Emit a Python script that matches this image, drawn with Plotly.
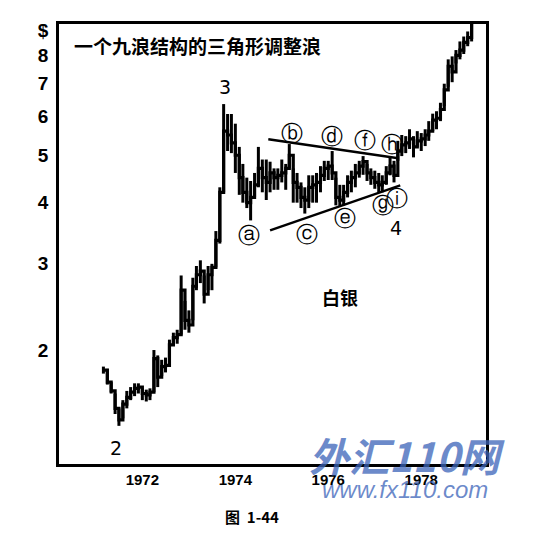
import math
import pandas as pd
import plotly.graph_objects as go

# monthly silver bars, Mar 1971 - Feb 1979
months = pd.date_range("1971-03-01", periods=96, freq="MS")

highs = [1.85, 1.83, 1.72, 1.63, 1.52, 1.58, 1.65, 1.68, 1.71, 1.71,
         1.67, 1.66, 1.67, 2.00, 1.95, 1.91, 1.93, 2.10, 2.17, 2.20,
         2.84, 2.52, 2.41, 2.81, 2.97, 3.05, 2.84, 2.97, 3.00, 3.50,
         4.30, 6.36, 6.07, 6.07, 5.80, 5.20, 4.80, 4.50, 4.43, 4.60,
         5.20, 4.90, 4.90, 4.85, 4.70, 4.70, 4.90, 4.80, 5.27, 4.70,
         4.60, 4.40, 4.30, 4.55, 4.55, 4.60, 4.75, 4.87, 4.87, 5.10,
         4.50, 4.35, 4.35, 4.55, 4.65, 4.80, 4.87, 4.98, 4.80, 4.70,
         4.65, 4.60, 4.55, 4.75, 4.98, 4.87, 5.35, 5.50, 5.47, 5.65,
         5.47, 5.60, 5.55, 5.65, 5.87, 6.08, 6.15, 6.40, 7.00, 7.85,
         7.96, 8.20, 8.54, 8.74, 8.95, 9.80]

lows = [1.79, 1.70, 1.63, 1.48, 1.40, 1.45, 1.52, 1.58, 1.61, 1.63,
        1.58, 1.57, 1.58, 1.64, 1.68, 1.77, 1.80, 1.87, 2.05, 2.06,
        2.15, 2.20, 2.17, 2.30, 2.65, 2.74, 2.49, 2.65, 2.65, 2.95,
        3.30, 4.20, 5.10, 5.05, 4.60, 4.15, 4.00, 3.90, 3.68, 4.10,
        4.30, 4.20, 4.05, 4.20, 4.25, 4.25, 4.40, 4.25, 4.70, 4.00,
        4.00, 3.90, 3.80, 3.90, 4.00, 4.00, 4.20, 4.43, 4.45, 4.45,
        3.95, 3.94, 3.95, 4.10, 4.20, 4.30, 4.50, 4.56, 4.43, 4.35,
        4.27, 4.20, 4.20, 4.35, 4.55, 4.40, 4.87, 4.98, 5.05, 5.15,
        4.95, 5.20, 5.10, 5.22, 5.35, 5.60, 5.65, 5.87, 6.30, 6.90,
        7.05, 7.70, 7.85, 8.05, 8.35, 8.54]

closes = [1.82, 1.72, 1.65, 1.52, 1.44, 1.55, 1.60, 1.64, 1.67, 1.68,
          1.63, 1.62, 1.64, 1.92, 1.76, 1.85, 1.86, 2.05, 2.12, 2.15,
          2.65, 2.30, 2.25, 2.70, 2.85, 2.90, 2.60, 2.85, 2.95, 3.35,
          4.20, 5.60, 5.50, 5.30, 5.00, 4.50, 4.20, 4.00, 4.10, 4.35,
          4.70, 4.50, 4.40, 4.60, 4.50, 4.55, 4.60, 4.70, 5.00, 4.40,
          4.30, 4.10, 4.05, 4.30, 4.35, 4.40, 4.55, 4.70, 4.75, 4.60,
          4.10, 4.05, 4.20, 4.40, 4.50, 4.60, 4.75, 4.85, 4.60, 4.50,
          4.40, 4.35, 4.40, 4.60, 4.75, 4.55, 5.10, 5.25, 5.30, 5.40,
          5.20, 5.35, 5.40, 5.50, 5.60, 5.90, 5.95, 6.20, 6.80, 7.60,
          7.40, 8.00, 8.20, 8.50, 8.70, 9.30]

# triangle boundary lines (start, end)
upper_dates = ["1974-09-17", "1977-07-05"]
upper_vals = [5.39, 4.93]
lower_dates = ["1974-10-01", "1977-07-20"]
lower_vals = [3.51, 4.34]

# wave labels: text, date, price
wave_text = ["ⓐ", "ⓑ", "ⓒ", "ⓓ", "ⓔ", "ⓕ", "ⓖ", "ⓗ", "ⓘ", "2", "3", "4"]
wave_dates = ["1974-04-20", "1975-03-20", "1975-07-15", "1976-02-01", "1976-05-15",
              "1976-10-15", "1977-03-10", "1977-05-20", "1977-06-25",
              "1971-06-10", "1973-10-10", "1977-06-20"]
wave_vals = [3.42, 5.55, 3.45, 5.45, 3.72, 5.35, 3.95, 5.25, 4.07, 1.26, 6.90, 3.55]

fig = go.Figure()

# high-low bars
seg_x, seg_y = [], []
for d, h, l in zip(months, highs, lows):
    seg_x += [d, d, None]
    seg_y += [l, h, None]
fig.add_trace(go.Scatter(x=seg_x, y=seg_y, mode="lines",
                         line=dict(color="black", width=3), hoverinfo="skip"))
# closes joined as steps
fig.add_trace(go.Scatter(x=months, y=closes, mode="lines", line_shape="hv",
                         line=dict(color="black", width=3.2)))

fig.add_trace(go.Scatter(x=upper_dates, y=upper_vals, mode="lines",
                         line=dict(color="black", width=2.4)))
fig.add_trace(go.Scatter(x=lower_dates, y=lower_vals, mode="lines",
                         line=dict(color="black", width=2.4)))

for t, d, v in zip(wave_text, wave_dates, wave_vals):
    fig.add_annotation(x=d, y=math.log10(v), text=t, showarrow=False,
                       xanchor="center", yanchor="middle",
                       font=dict(family="DejaVu Sans", size=19 if t.isdigit() else 22,
                                 color="black"))


def px(X, Y):
    # reference pixel -> paper coords of the plot frame
    return (X - 59) / 427, (464 - Y) / 442


tx, ty = px(72, 44)
fig.add_annotation(x=tx, y=ty, xref="paper", yref="paper", xanchor="left", yanchor="middle",
                   text="<b>一个九浪结构的三角形调整浪</b>", showarrow=False,
                   font=dict(family="Noto Sans CJK SC", size=19, color="black"))
tx, ty = px(340, 296)
fig.add_annotation(x=tx, y=ty, xref="paper", yref="paper", xanchor="center", yanchor="middle",
                   text="<b>白银</b>", showarrow=False,
                   font=dict(family="Noto Sans CJK SC", size=18, color="black"))
tx, ty = px(252, 517)
fig.add_annotation(x=tx, y=ty, xref="paper", yref="paper", xanchor="center", yanchor="middle",
                   text="<b>图  1-44</b>", showarrow=False,
                   font=dict(family="Noto Sans CJK SC", size=15, color="black"))
# scan watermark
tx, ty = px(407, 455)
fig.add_annotation(x=tx, y=ty, xref="paper", yref="paper", xanchor="center", yanchor="middle",
                   text="<b><i>外汇110网</i></b>", showarrow=False,
                   font=dict(family="Noto Sans CJK SC", size=40, color="rgba(60,100,185,0.75)"))
tx, ty = px(405, 490)
fig.add_annotation(x=tx, y=ty, xref="paper", yref="paper", xanchor="center", yanchor="middle",
                   text="<i>www.fx110.com</i>", showarrow=False,
                   font=dict(family="Liberation Sans", size=24, color="rgba(60,100,185,0.75)"))

# page body has an 8px margin, so the figure is shrunk by that much
fig.update_layout(
    width=549, height=542,
    margin=dict(l=51, r=71, t=14, b=86),
    paper_bgcolor="white", plot_bgcolor="white",
    showlegend=False,
    font=dict(family="Liberation Sans", color="black"),
)
fig.update_xaxes(
    type="date", range=["1970-03-17", "1979-05-25"],
    tickvals=["1972-01-01", "1974-01-01", "1976-01-01", "1978-01-01"],
    ticktext=["<b>1972</b>", "<b>1974</b>", "<b>1976</b>", "<b>1978</b>"],
    tickfont=dict(size=15), ticks="",
    showgrid=False, zeroline=False,
    showline=True, linecolor="black", linewidth=2.5, mirror=True,
)
fig.update_yaxes(
    type="log", range=[math.log10(1.17), math.log10(9.27)],
    tickvals=[2, 3, 4, 5, 6, 7, 8, 9],
    ticktext=["<b>2</b>", "<b>3</b>", "<b>4</b>", "<b>5</b>", "<b>6</b>",
              "<b>7</b>", "<b>8</b>", "<b>$</b>"],
    tickfont=dict(size=19), ticks="outside", ticklen=4, tickcolor="rgba(0,0,0,0)",
    showgrid=False, zeroline=False,
    showline=True, linecolor="black", linewidth=2.5, mirror=True,
)

fig.write_html("out.html")
